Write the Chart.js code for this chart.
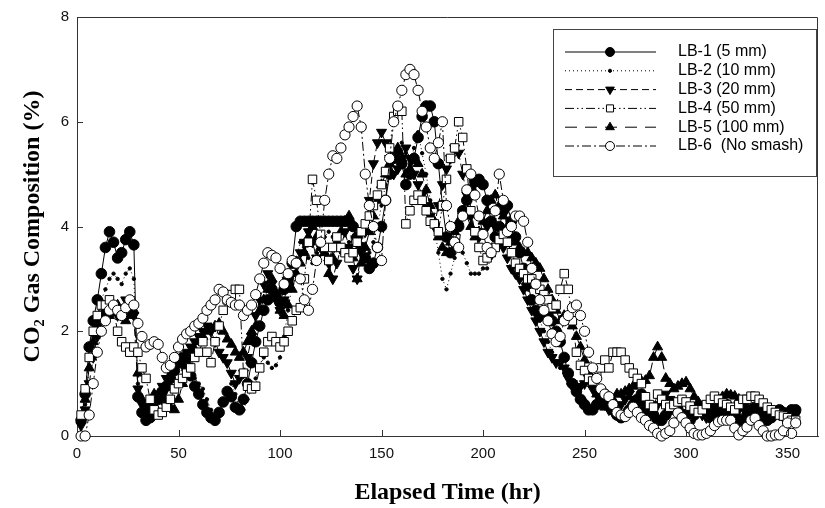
<!DOCTYPE html>
<html>
<head>
<meta charset="utf-8">
<script src="https://cdn.jsdelivr.net/npm/chart.js@4.4.1/dist/chart.umd.min.js"></script>
<style>
  html, body { margin: 0; padding: 0; background: #fff; }
</style>
</head>
<body>
<canvas id="co2_chart" width="825" height="508"></canvas>
<script>
// sampling times (hr)
const times = [
  2, 4, 6, 8, 10, 12, 14, 16, 18, 20,
  22, 24, 26, 28, 30, 32, 34, 36, 38, 40,
  42, 44, 46, 48, 50, 52, 54, 56, 58, 60,
  62, 64, 66, 68, 70, 72, 74, 76, 78, 80,
  82, 84, 86, 88, 90, 92, 94, 96, 98, 100,
  102, 104, 106, 108, 110, 112, 114, 116, 118, 120,
  122, 124, 126, 128, 130, 132, 134, 136, 138, 140,
  142, 144, 146, 148, 150, 152, 154, 156, 158, 160,
  162, 164, 166, 168, 170, 172, 174, 176, 178, 180,
  182, 184, 186, 188, 190, 192, 194, 196, 198, 200,
  202, 204, 206, 208, 210, 212, 214, 216, 218, 220,
  222, 224, 226, 228, 230, 232, 234, 236, 238, 240,
  242, 244, 246, 248, 250, 252, 254, 256, 258, 260,
  262, 264, 266, 268, 270, 272, 274, 276, 278, 280,
  282, 284, 286, 288, 290, 292, 294, 296, 298, 300,
  302, 304, 306, 308, 310, 312, 314, 316, 318, 320,
  322, 324, 326, 328, 330, 332, 334, 336, 338, 340,
  342, 344, 346, 348, 350, 352, 354
]

// CO2 (%) per sample
const lb1 = [
  0.3, 0.8, 1.7, 2.2, 2.6, 3.1, 3.6, 3.9, 3.7, 3.4,
  3.5, 3.75, 3.9, 3.65, 0.75, 0.45, 0.3, 0.35, 0.5, 0.7,
  0.85, 0.95, 1.1, 1.25, 1.4, 1.5, 1.35, 1.15, 0.95, 0.8,
  0.6, 0.45, 0.35, 0.3, 0.45, 0.65, 0.85, 0.75, 0.55, 0.5,
  0.7, 1.0, 1.4, 1.8, 2.1, 2.4, 2.6, 2.8, 2.7, 2.55,
  2.8, 3.0, 3.3, 4.0, 4.1, 4.1, 4.1, 4.1, 4.1, 4.1,
  4.1, 4.1, 4.1, 4.1, 4.1, 4.1, 4.1, 4.0, 3.8, 3.6,
  3.4, 3.2, 3.3, 3.6, 4.0, 4.5, 5.0, 5.3, 5.4, 5.2,
  4.8, 5.0, 5.3, 5.7, 6.1, 6.3, 6.3, 6.0, 5.2, 4.4,
  3.8, 3.5, 3.7, 4.0, 4.3, 4.5, 4.7, 4.85, 4.9, 4.8,
  4.5, 4.1, 3.8, 4.0, 4.3, 4.4, 4.1, 3.8, 3.5, 3.2,
  2.9, 2.6, 2.4, 2.3, 2.3, 2.3, 2.2, 2.0, 1.8, 1.5,
  1.2, 1.0, 0.85, 0.7, 0.6, 0.5, 0.5, 0.6, 0.7, 0.8,
  0.6, 0.5, 0.4, 0.35, 0.4, 0.5, 0.6, 0.7, 0.8, 0.6,
  0.5, 0.4, 0.3, 0.3, 0.4, 0.5, 0.6, 0.5, 0.4, 0.35,
  0.3, 0.4, 0.5, 0.55, 0.45, 0.35, 0.3, 0.4, 0.5, 0.6,
  0.5, 0.4, 0.3, 0.3, 0.4, 0.5, 0.55, 0.45, 0.35, 0.3,
  0.35, 0.45, 0.5, 0.45, 0.4, 0.5, 0.5
]
const lb2 = [
  0.2, 0.6, 1.3, 1.9, 2.3, 2.6, 2.8, 3.0, 3.1, 3.0,
  2.9, 3.1, 3.2, 3.0, 1.0, 0.6, 0.45, 0.5, 0.6, 0.75,
  0.9, 1.0, 1.15, 1.3, 1.4, 1.3, 1.2, 1.1, 1.1, 1.0,
  0.9, 0.7, 0.5, 0.3, 0.4, 0.6, 0.9, 1.0, 0.8, 0.55,
  0.5, 0.7, 0.9, 1.1, 1.3, 1.5, 1.4, 1.3, 1.35, 1.5,
  1.9, 2.4, 2.9, 3.4, 3.7, 3.6, 3.4, 3.3, 3.5, 3.7,
  3.8, 3.9, 3.8, 3.6, 3.5, 3.5, 3.7, 3.8, 3.7, 3.5,
  3.4, 3.5, 3.7, 4.0, 4.4, 4.8, 5.1, 5.3, 5.5, 5.6,
  5.4, 5.2, 5.5, 5.8, 5.4, 5.0, 4.5, 4.0, 3.5, 3.0,
  2.8, 3.1, 3.4, 3.6, 3.5, 3.3, 3.1, 3.1, 3.1, 3.2,
  3.2, 3.4, 3.6, 3.8, 3.9, 3.7, 3.5, 3.3, 3.1, 3.0,
  2.8, 2.6, 2.4, 2.2, 2.0, 1.8, 1.6, 1.4, 1.3, 1.2,
  1.0, 0.9, 0.8, 0.75, 0.7, 0.6, 0.55, 0.6, 0.7, 0.75,
  0.7, 0.6, 0.5, 0.45, 0.5, 0.6, 0.7, 0.75, 0.65, 0.55,
  0.45, 0.4, 0.35, 0.4, 0.5, 0.6, 0.65, 0.55, 0.45, 0.4,
  0.35, 0.4, 0.5, 0.6, 0.55, 0.45, 0.4, 0.35, 0.45, 0.55,
  0.6, 0.5, 0.4, 0.35, 0.4, 0.5, 0.55, 0.5, 0.4, 0.35,
  0.4, 0.5, 0.55, 0.45, 0.4, 0.45, 0.5
]
const lb3 = [
  0.2, 0.5, 1.0, 1.5, 1.9, 2.2, 2.4, 2.5, 2.4, 2.3,
  2.4, 2.6, 2.5, 2.3, 0.9, 0.6, 0.5, 0.55, 0.7, 0.8,
  0.95, 1.1, 1.2, 1.3, 1.4, 1.5, 1.6, 1.7, 1.8, 1.9,
  2.0, 2.1, 2.0, 1.8, 1.6, 1.5, 1.4, 1.2, 1.0, 1.1,
  1.2, 1.5, 1.9, 2.3, 2.6, 2.9, 3.1, 2.9, 2.6, 2.4,
  2.6, 2.9, 3.1, 3.3, 3.5, 3.7, 3.9, 3.7, 3.4, 3.6,
  3.6, 3.3, 3.0, 3.3, 3.6, 3.9, 3.6, 3.2, 3.0, 3.5,
  3.9, 4.5, 5.2, 5.6, 5.8, 5.6, 5.3, 5.0, 5.1, 5.3,
  5.5, 5.3, 5.0, 4.8, 4.6, 4.4, 4.2, 4.0, 4.4, 4.8,
  5.1, 5.3, 5.5, 5.4, 5.0, 4.6, 4.2, 3.9, 3.8, 3.9,
  4.0, 4.1, 4.0, 3.8, 3.6, 3.4, 3.2, 3.1, 3.0, 2.8,
  2.6, 2.4, 2.2, 2.0, 1.8, 1.6, 1.5, 1.4, 1.4, 1.3,
  1.1, 1.0, 0.9, 0.95, 1.0, 1.1, 0.9, 0.8, 0.7, 0.6,
  0.5, 0.45, 0.5, 0.6, 0.7, 0.8, 0.7, 0.6, 0.5, 0.45,
  0.4, 0.5, 0.6, 0.7, 0.8, 0.7, 0.6, 0.5, 0.4, 0.45,
  0.5, 0.55, 0.45, 0.4, 0.35, 0.4, 0.5, 0.55, 0.45, 0.4,
  0.35, 0.4, 0.5, 0.55, 0.5, 0.4, 0.35, 0.3, 0.35, 0.45,
  0.5, 0.45, 0.4, 0.35, 0.4, 0.45, 0.4
]
const lb4 = [
  0.4, 0.9, 1.5, 2.0, 2.3, 2.5, 2.5, 2.6, 2.4, 2.0,
  1.8, 1.7, 1.6, 1.7, 1.6, 1.3, 1.1, 0.7, 0.5, 0.4,
  0.45, 0.55, 0.7, 0.9, 1.0, 1.1, 1.2, 1.3, 1.5, 1.6,
  1.8, 1.6, 1.4, 1.8, 2.1, 2.4, 2.6, 2.7, 2.8, 2.8,
  1.2, 0.95, 0.9, 0.95, 1.3, 1.6, 1.8, 1.9, 1.8, 1.7,
  1.8, 2.0, 2.2, 2.4, 2.45, 3.0, 3.7, 4.9, 4.5, 3.85,
  3.6, 3.35, 3.6, 3.8, 3.6, 3.5, 3.4, 3.5, 3.7, 3.9,
  4.05, 4.2, 4.4, 4.6, 4.8, 5.05, 5.5, 6.1, 6.2, 6.2,
  4.05, 4.3, 4.5, 4.6, 4.5, 4.3, 4.1, 4.05, 3.9, 4.4,
  4.9, 5.3, 5.5, 6.0, 5.7, 5.1, 4.3, 3.9, 3.6, 3.35,
  3.4, 3.5, 3.6, 3.75, 3.85, 3.7, 3.5, 3.3, 3.2, 3.1,
  3.0, 3.0, 2.9, 2.8, 2.7, 2.6, 2.45, 2.5, 2.8, 3.1,
  2.8, 2.2, 1.6, 1.35, 1.25, 1.1, 1.05, 1.15, 1.3, 1.45,
  1.3, 1.6, 1.6, 1.6, 1.45, 1.3, 1.2, 1.1, 1.0, 0.75,
  0.6, 0.55, 0.8, 0.7, 0.6, 0.55, 0.6, 0.65, 0.7, 0.65,
  0.57, 0.5, 0.45, 0.5, 0.6, 0.7, 0.76, 0.7, 0.63, 0.6,
  0.55, 0.5, 0.6, 0.7, 0.7, 0.76, 0.76, 0.7, 0.63, 0.55,
  0.5, 0.45, 0.4, 0.38, 0.35, 0.3, 0.3
]
const lb5 = [
  0.3, 0.7, 1.3, 1.8, 2.1, 2.3, 2.4, 2.3, 2.4, 2.5,
  2.4, 2.2, 2.3, 2.4, 1.2, 0.7, 0.5, 0.6, 0.8, 0.8,
  0.75, 0.65, 0.55, 0.5, 0.7, 1.0, 1.3, 1.5, 1.65, 1.8,
  1.9, 2.0, 2.05, 2.1, 2.15, 2.0, 1.85, 1.75, 1.6, 1.5,
  1.6, 1.8, 2.0, 2.1, 2.4, 2.6, 2.8, 3.0, 2.7, 2.4,
  2.3, 2.5, 2.8, 3.1, 3.3, 3.5, 3.8, 4.0, 3.8, 3.6,
  3.5, 3.1, 3.4, 3.7, 3.9, 4.1, 4.2, 3.4, 3.0, 3.3,
  3.6, 3.9, 4.2, 4.5, 4.8, 5.0, 5.2, 5.4, 5.5, 5.3,
  5.0, 5.1, 5.3, 5.2, 5.0, 4.7, 4.4, 4.1, 3.8, 3.6,
  3.5, 3.7, 3.9, 4.1, 4.3, 4.2, 4.0, 3.8, 3.9, 4.1,
  4.3, 4.5, 4.6, 4.4, 4.2, 4.0, 3.8, 3.7, 3.6, 3.5,
  3.5, 3.4, 3.3, 3.2, 3.0, 2.8, 2.6, 2.4, 2.2, 2.3,
  2.2, 2.1, 1.9, 1.7, 1.45, 1.2, 1.0, 0.8, 0.6, 0.55,
  0.6, 0.7, 0.8, 0.8, 0.85, 0.9, 0.95, 1.0, 1.05, 1.06,
  1.15, 1.5, 1.7, 1.5, 1.1, 1.0, 0.9, 0.95, 1.0, 1.03,
  0.9, 0.75, 0.65, 0.57, 0.55, 0.6, 0.65, 0.7, 0.75, 0.8,
  0.78, 0.76, 0.7, 0.6, 0.55, 0.5, 0.45, 0.5, 0.55, 0.5,
  0.45, 0.44, 0.4, 0.38, 0.35, 0.35, 0.3
]
const lb6 = [
  0.0, 0.0, 0.4, 1.0, 1.6, 2.0, 2.2, 2.4, 2.5, 2.4,
  2.3, 2.45, 2.6, 2.5, 2.15, 1.9, 1.7, 1.75, 1.8, 1.75,
  1.5, 1.3, 1.35, 1.5, 1.7, 1.85, 1.95, 2.0, 2.1, 2.15,
  2.25, 2.4, 2.5, 2.6, 2.8, 2.75, 2.6, 2.55, 2.5, 2.5,
  2.3, 2.4, 2.5, 2.7, 3.0, 3.3, 3.5, 3.45, 3.4, 3.2,
  2.9, 3.1, 3.35, 3.3, 3.0, 2.6, 2.4, 2.8, 3.35, 3.7,
  4.5, 5.0, 5.35, 5.3, 5.5, 5.75, 5.9, 6.1, 6.3, 5.9,
  5.0, 4.4, 4.0, 3.6, 3.35, 4.5, 5.3, 6.0, 6.3, 6.6,
  6.9, 7.0, 6.9, 6.6, 6.2, 5.9, 5.5, 5.3, 5.6, 6.0,
  4.4, 4.0, 3.7, 3.6, 4.2, 4.7, 5.0, 4.6, 4.2, 3.85,
  3.6, 3.5, 4.3, 5.0, 4.5, 3.9, 4.0, 4.2, 4.2, 4.1,
  3.7, 3.2, 2.9, 2.6, 2.4, 2.2, 1.95, 1.8, 1.9, 2.2,
  2.3, 2.45, 2.5, 2.3, 2.0, 1.6, 1.3, 1.1, 0.9, 0.8,
  0.75, 0.6, 0.45, 0.4, 0.37, 0.45, 0.55, 0.45, 0.35, 0.3,
  0.2, 0.15, 0.05, 0.0, 0.05, 0.1, 0.25, 0.44, 0.35, 0.25,
  0.15, 0.05, 0.02, 0.02, 0.05, 0.1, 0.2, 0.27, 0.3, 0.3,
  0.3, 0.15, 0.02, 0.1, 0.17, 0.3, 0.34, 0.2, 0.1, 0.0,
  0.0, 0.02, 0.02, 0.1, 0.25, 0.05, 0.25
]

const seriesLabels = ['LB-1 (5 mm)', 'LB-2 (10 mm)', 'LB-3 (20 mm)', 'LB-4 (50 mm)', 'LB-5 (100 mm)', 'LB-6  (No smash)']
const xTicks = [0, 50, 100, 150, 200, 250, 300, 350]
const yTicks = [0, 2, 4, 6, 8]

const toPoints = (vals) => vals.map((v, i) => ({ x: times[i], y: v }))

const styles = [
  { pointStyle: 'circle', radius: 5.3, fill: '#000', dash: [], rotation: 0, order: 6 },
  { pointStyle: 'circle', radius: 1.7, fill: '#000', dash: [1, 3], rotation: 0, order: 5 },
  { pointStyle: 'triangle', radius: 5.8, fill: '#000', dash: [7, 4], rotation: 180, order: 4 },
  { pointStyle: 'rect', radius: 6, fill: '#fff', dash: [9, 3, 1.5, 3, 1.5, 3], rotation: 0, order: 2 },
  { pointStyle: 'triangle', radius: 5.8, fill: '#000', dash: [12, 8], rotation: 0, order: 3 },
  { pointStyle: 'circle', radius: 5.1, fill: '#fff', dash: [9, 3, 2, 3], rotation: 0, order: 1 }
]
// legend marker sizes are a bit smaller than the plotted ones
const legendRadius = [4.5, 1.6, 5, 5, 5, 4.5]

const allValues = [lb1, lb2, lb3, lb4, lb5, lb6]

const datasets = allValues.map((vals, i) => ({
  label: seriesLabels[i],
  data: toPoints(vals),
  borderColor: '#000',
  borderWidth: 1,
  borderDash: styles[i].dash,
  backgroundColor: styles[i].fill,
  pointStyle: styles[i].pointStyle,
  pointRotation: styles[i].rotation,
  pointRadius: styles[i].radius,
  pointBackgroundColor: styles[i].fill,
  pointBorderColor: '#000',
  pointBorderWidth: 1,
  tension: 0,
  fill: false,
  clip: false,
  order: styles[i].order
}))

// inward ticks, box frame and legend with line samples
const framePlugin = {
  id: 'frame',
  afterDraw(chart) {
    const { ctx, chartArea: a, scales } = chart
    ctx.save()
    ctx.strokeStyle = '#333'
    ctx.lineWidth = 1
    ctx.setLineDash([])
    ctx.beginPath()
    ctx.moveTo(a.left, a.top + 0.5)
    ctx.lineTo(a.right - 0.5, a.top + 0.5)
    ctx.lineTo(a.right - 0.5, a.bottom)
    xTicks.forEach(t => {
      if (t === 0) return
      const px = Math.round(scales.x.getPixelForValue(t)) + 0.5
      ctx.moveTo(px, a.bottom)
      ctx.lineTo(px, a.bottom - 6)
    })
    yTicks.forEach(t => {
      if (t === 0 || t === 8) return
      const py = Math.round(scales.y.getPixelForValue(t)) + 0.5
      ctx.moveTo(a.left, py)
      ctx.lineTo(a.left + 6, py)
    })
    ctx.stroke()

    // legend
    const bx = 553, by = 29, bw = 263, bh = 147
    ctx.fillStyle = '#fff'
    ctx.fillRect(bx, by, bw, bh)
    ctx.strokeStyle = '#444'
    ctx.strokeRect(bx + 0.5, by + 0.5, bw, bh)
    ctx.font = '16px "Liberation Sans", Arial, sans-serif'
    ctx.textBaseline = 'middle'
    seriesLabels.forEach((lab, i) => {
      const y = 52 + i * 18.8
      const s = styles[i]
      ctx.strokeStyle = '#000'
      ctx.lineWidth = 1
      ctx.setLineDash(s.dash)
      ctx.beginPath()
      ctx.moveTo(565, y)
      ctx.lineTo(656, y)
      ctx.stroke()
      ctx.setLineDash([])
      ctx.fillStyle = s.fill
      ctx.strokeStyle = '#000'
      Chart.helpers.drawPoint(ctx, { pointStyle: s.pointStyle, rotation: s.rotation, radius: legendRadius[i], borderWidth: 1 }, 610, y)
      ctx.fillStyle = '#000'
      ctx.fillText(lab, 678, y)
    })
    ctx.restore()
  }
}

const config = {
  type: 'line',
  data: { datasets: datasets },
  options: {
    responsive: false,
    animation: false,
    layout: { padding: { top: 15, right: 2, left: 0, bottom: 0 } },
    plugins: { legend: { display: false }, tooltip: { enabled: false } },
    scales: {
      x: {
        type: 'linear',
        min: 0,
        max: 365,
        afterBuildTicks: (scale) => { scale.ticks = xTicks.map(v => ({ value: v })) },
        afterFit: (scale) => { scale.height = 72 },
        grid: { display: false, drawTicks: false },
        border: { display: true, color: '#333', width: 1 },
        ticks: { padding: 9, color: '#111', font: { family: '"Liberation Sans", Arial, sans-serif', size: 15 } },
        title: {
          display: true,
          text: 'Elapsed Time (hr)',
          color: '#000',
          padding: { top: 10, bottom: 1 },
          font: { family: '"Liberation Serif", "Times New Roman", serif', size: 24, weight: 'bold' }
        }
      },
      y: {
        min: 0,
        max: 8,
        afterBuildTicks: (scale) => { scale.ticks = yTicks.map(v => ({ value: v })) },
        afterFit: (scale) => { scale.width = 77 },
        grid: { display: false, drawTicks: false },
        border: { display: true, color: '#333', width: 1 },
        ticks: { padding: 8, color: '#111', font: { family: '"Liberation Sans", Arial, sans-serif', size: 15 } },
        title: {
          display: true,
          text: 'CO\u2082 Gas Composition (%)',
          color: '#000',
          padding: { top: 18, bottom: 0 },
          font: { family: '"Liberation Serif", "Times New Roman", serif', size: 24, weight: 'bold' }
        }
      }
    }
  },
  plugins: [framePlugin]
}

const canvas = document.getElementById('co2_chart')
const ctx = canvas.getContext('2d')
const co2Chart = new Chart(ctx, config)
</script>
</body>
</html>
